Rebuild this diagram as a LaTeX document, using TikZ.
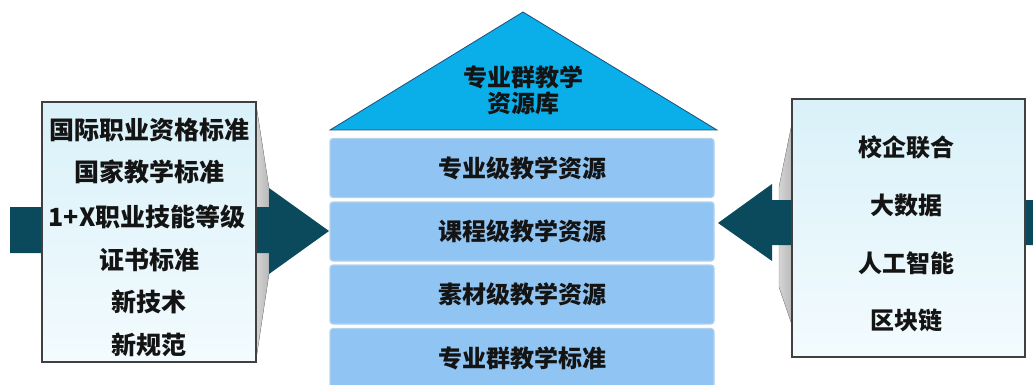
\documentclass[tikz,border=0pt]{standalone}
\usepackage{fontspec}
\setmainfont{Noto Sans CJK SC}
\definecolor{arrowc}{HTML}{0A4A5C}
\definecolor{roofc}{HTML}{0AAEE8}
\definecolor{roofd}{HTML}{1F4E79}
\definecolor{layerc}{HTML}{90C4F2}
\definecolor{layerd}{HTML}{B3D2EE}
\definecolor{txt}{HTML}{141414}
\definecolor{boxtop}{HTML}{D9F1F9}
\definecolor{boxbot}{HTML}{F3FBFE}
\definecolor{shad}{HTML}{B8B8B8}
\tikzset{
  lbl/.style={font=\bfseries\fontsize{24}{28}\selectfont, text=txt, inner sep=0pt},
  lblb/.style={font=\bfseries\fontsize{25}{28}\selectfont, text=txt, inner sep=0pt},
  layer/.style={draw=layerd, line width=1.2pt, fill=layerc, rounded corners=3pt,
     minimum width=384pt, minimum height=59pt, inner sep=0pt},
  sidebox/.style={draw=black!75, line width=1.2pt, top color=boxtop, bottom color=boxbot},
  blockarrow/.style={fill=arrowc, draw=none},
  shadow3d/.style={left color=shad!60, right color=shad, draw=black!40, line width=0.4pt}
}
\begin{document}
\begin{tikzpicture}[x=1pt,y=-1pt]
\useasboundingbox (0,0) rectangle (1033,385);
% left side: shadow, arrow, box
\fill[shadow3d] (256,104) -- (269,188) -- (269,274) -- (256,360) -- cycle;
\fill[blockarrow] (10,207) -- (269,207) -- (269,188) -- (329,231) -- (269,274) -- (269,253) -- (10,253) -- cycle;
\path[sidebox] (42,102) rectangle (256,362);
\node[lblb] (l1) at (149,130) {国际职业资格标准};
\node[lblb] (l2) at (149,172) {国家教学标准};
\node[lblb] (l3) at (147,217) {1+X职业技能等级};
\node[lblb] (l4) at (149,260) {证书标准};
\node[lblb] (l5) at (149,302) {新技术};
\node[lblb] (l6) at (149,345) {新规范};
% right side
\fill[shadow3d] (792,123) -- (779,187) -- (779,287) -- (792,325) -- cycle;
\fill[blockarrow] (718,223) -- (772,184) -- (772,200) -- (1033,200) -- (1033,245) -- (772,245) -- (772,261) -- cycle;
\path[sidebox] (792,99) rectangle (1025,357);
\node[lbl] (r1) at (906,147) {校企联合};
\node[lbl] (r2) at (906,205) {大数据};
\node[lbl] (r3) at (906,263) {人工智能};
\node[lbl] (r4) at (906,320) {区块链};
% roof
\filldraw[fill=roofc, draw=roofd, line width=0.8pt] (523,12) -- (717,130) -- (330,130) -- cycle;
\node[lbl, align=center] (roof) at (523,90) {专业群教学\\[-2pt]资源库};
% layers
\node[layer] (b1) at (522,168) {};
\node[layer] (b2) at (522,231.5) {};
\node[layer] (b3) at (522,294.5) {};
\node[layer] (b4) at (522,358) {};
\node[lbl] at (b1) {专业级教学资源};
\node[lbl] at (b2) {课程级教学资源};
\node[lbl] at (b3) {素材级教学资源};
\node[lbl] at (b4) {专业群教学标准};
\end{tikzpicture}
\end{document}
